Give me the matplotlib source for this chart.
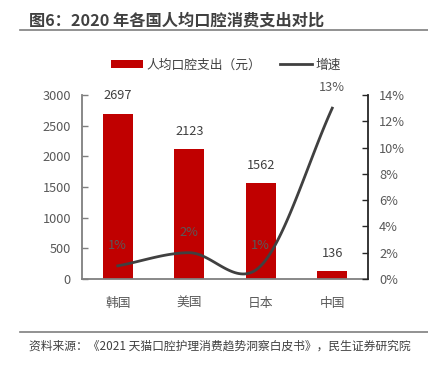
import matplotlib
matplotlib.use("Agg")
import matplotlib.pyplot as plt
import numpy as np
from matplotlib.lines import Line2D

plt.rcParams['font.family'] = ['Noto Sans CJK SC', 'DejaVu Sans']

# 数据
categories = ['韩国', '美国', '日本', '中国']
spend = [2697, 2123, 1562, 136]          # 人均口腔支出（元）
growth = [1.0, 2.0, 1.0, 13.0]           # 增速 (%)
left_ticks = [0, 500, 1000, 1500, 2000, 2500, 3000]
right_ticks = [0, 2, 4, 6, 8, 10, 12, 14]

title = '图6：2020 年各国人均口腔消费支出对比'
source = '资料来源：《2021 天猫口腔护理消费趋势洞察白皮书》，民生证券研究院'

red = '#C00000'
dark = '#404040'
grey = '#595959'
fs = 9.2

W, H = 428, 366
fig = plt.figure(figsize=(W / 100, H / 100), dpi=100, facecolor='white')

# 标题与分隔线
fig.text(29 / W, 1 - 20 / H, title, fontsize=11.7, fontweight='bold', color=dark,
         ha='left', va='center')
fig.add_artist(Line2D([20 / W, 1], [1 - 29.5 / H] * 2, color='#7f7f7f', lw=1.2))
fig.add_artist(Line2D([20 / W, 1], [1 - 332 / H] * 2, color='#7f7f7f', lw=1.2))
fig.text(29 / W, 1 - 346 / H, source, fontsize=8.5, color=dark, ha='left', va='center')

ax = fig.add_axes([82 / W, 1 - 279 / H, (368 - 82) / W, (279 - 95) / H])
x = np.arange(len(categories))
bars = ax.bar(x, spend, width=0.42, color=red, zorder=2, label='人均口腔支出（元）')
ax.set_xlim(-0.5, len(categories) - 0.5)
ax.set_ylim(0, 3000)
ax.set_yticks(left_ticks)
ax.set_xticks(x)
ax.set_xticklabels(categories)
ax.tick_params(axis='y', direction='in', length=4, width=1, color='#7f7f7f',
               labelsize=fs, labelcolor=grey, pad=8)
ax.tick_params(axis='x', length=0, labelsize=fs, labelcolor=grey, pad=13)
for s in ['top', 'right']:
    ax.spines[s].set_visible(False)
for s in ['left', 'bottom']:
    ax.spines[s].set_color('#7f7f7f')
    ax.spines[s].set_linewidth(1.3)

for xi, v in zip(x, spend):
    ax.annotate(str(v), (xi, v), xytext=(0, 8), textcoords='offset points',
                ha='center', va='bottom', fontsize=fs, color=dark)

# 右轴：增速 (平滑曲线, Catmull-Rom)
ax2 = ax.twinx()
ax2.set_ylim(0, 14)
ax2.set_yticks(right_ticks)
ax2.set_yticklabels([f'{t}%' for t in right_ticks])
ax2.tick_params(axis='y', direction='in', length=4, width=1, color='#262626',
                labelsize=fs, labelcolor=grey, pad=8)
for s in ['top', 'left', 'bottom']:
    ax2.spines[s].set_visible(False)
ax2.spines['right'].set_color('#262626')
ax2.spines['right'].set_linewidth(1.3)

px = x.astype(float)
py = np.array(growth, dtype=float)
n = len(px)
tang = np.zeros(n)
for i in range(n):
    lo, hi = max(i - 1, 0), min(i + 1, n - 1)
    tang[i] = (py[hi] - py[lo]) / (px[hi] - px[lo])
sx, sy = [], []
for i in range(n - 1):
    t = np.linspace(0, 1, 40)
    h00 = 2 * t**3 - 3 * t**2 + 1
    h10 = t**3 - 2 * t**2 + t
    h01 = -2 * t**3 + 3 * t**2
    h11 = t**3 - t**2
    dx = px[i + 1] - px[i]
    sx.extend(px[i] + t * dx)
    sy.extend(h00 * py[i] + h10 * dx * tang[i] + h01 * py[i + 1] + h11 * dx * tang[i + 1])
line, = ax2.plot(sx, sy, color=dark, lw=2, zorder=3, label='增速')
for xi, v in zip(x, growth):
    ax2.annotate(f'{v:.0f}%', (xi, v), xytext=(0, 10), textcoords='offset points',
                 ha='center', va='bottom', fontsize=fs, color=grey)

fig.legend(handles=[bars, line], labels=['人均口腔支出（元）', '增速'],
           loc='center', bbox_to_anchor=(226 / W, 1 - 65 / H), ncol=2, frameon=False,
           fontsize=fs, handlelength=2.5, handleheight=0.6, columnspacing=1.4,
           handletextpad=0.3, labelcolor=dark)

fig.savefig('out.png', dpi=100, facecolor='white')
